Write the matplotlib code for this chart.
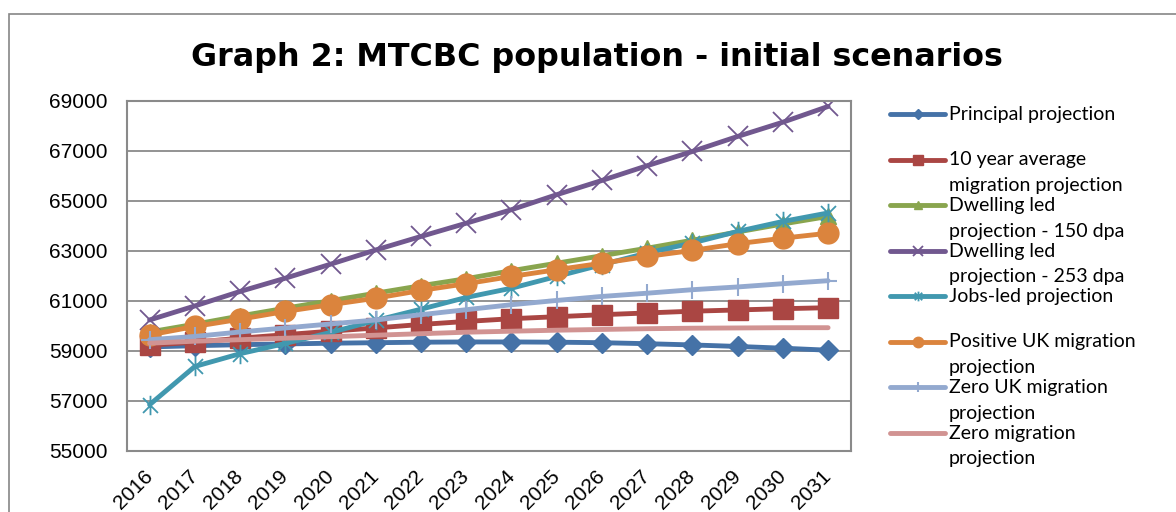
import matplotlib
matplotlib.use("Agg")
import matplotlib.pyplot as plt
from matplotlib.path import Path
from matplotlib.lines import Line2D
from matplotlib.patches import Rectangle
from matplotlib.transforms import ScaledTranslation

years = [str(y) for y in range(2016, 2032)]

principal = [59150, 59200, 59240, 59270, 59300, 59320, 59340, 59350,
             59350, 59340, 59320, 59280, 59230, 59170, 59100, 59020]
ten_year = [59220, 59340, 59500, 59640, 59780, 59910, 60050, 60170,
            60280, 60360, 60440, 60510, 60580, 60630, 60680, 60720]
dwell_150 = [59750, 60060, 60390, 60700, 61000, 61300, 61600, 61880,
             62200, 62500, 62800, 63100, 63420, 63750, 64070, 64370]
dwell_253 = [60230, 60790, 61370, 61900, 62460, 63030, 63570, 64100,
             64640, 65240, 65810, 66400, 66970, 67570, 68140, 68770]
jobs_led = [56840, 58370, 58880, 59290, 59730, 60210, 60660, 61130,
            61500, 61970, 62440, 62910, 63310, 63770, 64170, 64510]
pos_uk = [59630, 59970, 60260, 60570, 60840, 61100, 61410, 61680,
          61970, 62240, 62500, 62770, 63010, 63280, 63500, 63700]
zero_uk = [59440, 59570, 59750, 59910, 60070, 60230, 60440, 60640,
           60840, 61010, 61170, 61300, 61440, 61550, 61680, 61800]
zero_mig = [59300, 59380, 59440, 59500, 59560, 59620, 59680, 59740,
            59780, 59820, 59850, 59880, 59900, 59910, 59920, 59920]

labels = ["Principal projection",
          "10 year average\nmigration projection",
          "Dwelling led\nprojection - 150 dpa",
          "Dwelling led\nprojection - 253 dpa",
          "Jobs-led projection",
          "Positive UK migration\nprojection",
          "Zero UK migration\nprojection",
          "Zero migration\nprojection"]

yticks = list(range(55000, 69001, 2000))
title = "Graph 2: MTCBC population - initial scenarios"

star = Path([(-1, -1), (1, 1), (-1, 1), (1, -1), (0, -1.3), (0, 1.3)],
            [Path.MOVETO, Path.LINETO, Path.MOVETO, Path.LINETO, Path.MOVETO, Path.LINETO])

series = [principal, ten_year, dwell_150, dwell_253, jobs_led, pos_uk, zero_uk, zero_mig]
styles = [
    dict(color="#4572A7", marker="D", ms=10, mec="#4572A7"),
    dict(color="#AA4643", marker="s", ms=14, mec="#AA4643"),
    dict(color="#89A54E", marker="^", ms=12, mec="#89A54E"),
    dict(color="#71588F", marker="x", ms=14, mew=1.3),
    dict(color="#4198AF", marker=star, ms=14, mew=1.3),
    dict(color="#DB843D", marker="o", ms=15, mec="#DB843D"),
    dict(color="#93A9CF", marker="+", ms=13, mew=1.5),
    dict(color="#D19392", marker=None),
]

W, H = 1176, 512
fig = plt.figure(figsize=(W / 100, H / 100), dpi=100)

def fx(x):
    return x / W

def fy(y):
    return 1 - y / H

# outer chart border
fig.add_artist(Rectangle((fx(9), fy(600)), fx(1300), fy(13.5) - fy(600),
                         transform=fig.transFigure, fill=False,
                         edgecolor="#868686", lw=1.2))

L, T, R, B = 127, 100.7, 850.7, 450.7
ax = fig.add_axes([fx(L), fy(B), fx(R) - fx(L), fy(T) - fy(B)])

x = list(range(len(years)))
for vals, st in zip(series, styles):
    ax.plot(x, vals, lw=3.5, solid_capstyle="round", **st)

ax.set_xlim(-0.5, len(years) - 0.5)
ax.set_ylim(55000, 69000)
ax.set_yticks(yticks)
ax.set_yticklabels([str(v) for v in yticks], fontsize=15, family="Liberation Sans")
ax.set_xticks(x)
ax.set_xticklabels(years, fontsize=15, family="Liberation Sans",
                   rotation=45, ha="right", va="center", rotation_mode="anchor")
off = ScaledTranslation(4 / 100, -2 / 100, fig.dpi_scale_trans)
for t in ax.get_xticklabels():
    t.set_transform(t.get_transform() + off)
ax.tick_params(axis="y", length=0, pad=14)
ax.tick_params(axis="x", length=0, pad=16)
ax.grid(axis="y", color="#8a8a8a", lw=1.3)
ax.set_axisbelow(True)
for s in ax.spines.values():
    s.set_color("#8a8a8a")
    s.set_linewidth(1.5)

fig.text(fx(597), fy(66), title, ha="center", va="baseline",
         fontsize=22.9, fontweight="bold", family="DejaVu Sans")

# legend
row0, dy, lsp = 114, 45.5, 25.5
for i, (lab, st) in enumerate(zip(labels, styles)):
    yy = row0 + i * dy
    mk = st.get("marker")
    ms = st.get("ms", 0) * 0.5
    fig.add_artist(Line2D([fx(890), fx(945)], [fy(yy), fy(yy)],
                          transform=fig.transFigure, color=st["color"], lw=3.5,
                          solid_capstyle="round"))
    if mk is not None:
        fig.add_artist(Line2D([fx(917.5)], [fy(yy)], transform=fig.transFigure,
                              color=st["color"], marker=mk, ms=ms,
                              mew=st.get("mew", 1.0), linestyle="none"))
    for j, line in enumerate(lab.split("\n")):
        fig.text(fx(949), fy(yy + 6 + j * lsp), line, ha="left", va="baseline",
                 fontsize=14, family="Lato", color="black")

fig.savefig("out.png", dpi=100)
